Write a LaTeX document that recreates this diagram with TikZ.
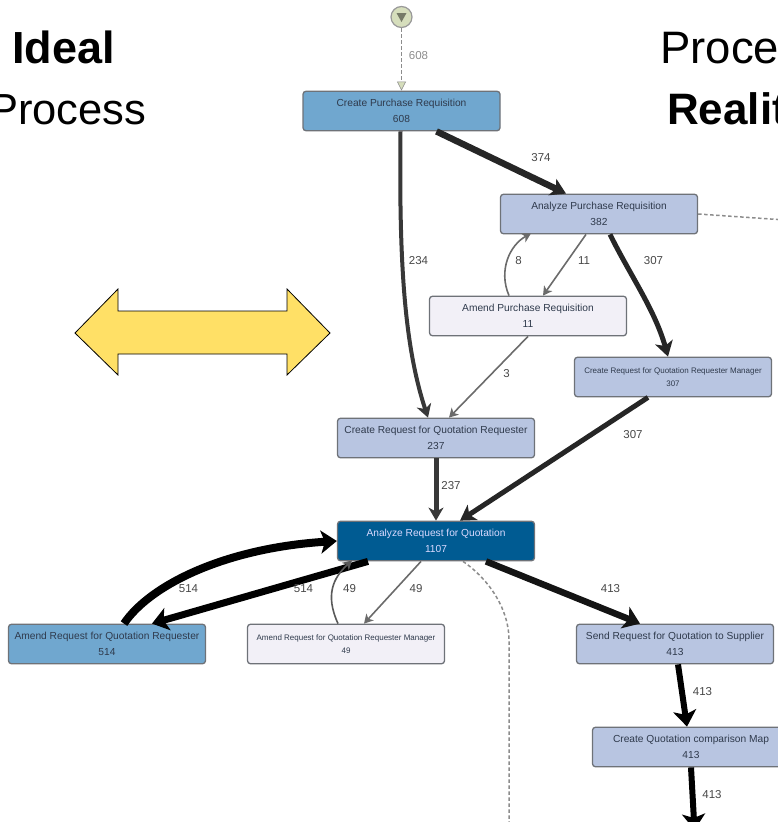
\documentclass[tikz,border=0pt]{standalone}
\usepackage{fontspec}
\setmainfont{Liberation Sans}
\usetikzlibrary{arrows.meta}
\definecolor{midblue}{HTML}{70A7CF}
\definecolor{paleblue}{HTML}{B8C5E1}
\definecolor{palewhite}{HTML}{F2F0F7}
\definecolor{deepblue}{HTML}{005B92}
\definecolor{boxedge}{HTML}{6E7278}
\definecolor{startfill}{HTML}{D6DEBC}
\definecolor{arrowyellow}{HTML}{FFE066}
\definecolor{boxtext}{HTML}{2F3A4C}
\tikzset{
  box/.style={draw=boxedge,line width=1.3pt,rounded corners=3pt,minimum width=197pt,minimum height=39.5pt,
    inner sep=0pt,align=center,text=boxtext,font=\fontsize{10.2}{16.5}\selectfont},
  tiny/.style={font=\fontsize{8}{13}\selectfont},
  edgelabel/.style={font=\fontsize{11.5}{12}\selectfont,text=black!72,inner sep=0pt},
  title/.style={font=\fontsize{43.5}{50}\selectfont,text=black,inner sep=0pt,anchor=base west},
  thin flow/.style={draw=black!58,line width=1.6pt,-{Stealth[length=9pt,width=10pt,inset=2.5pt]}},
  mid flow/.style={draw=black!78,line width=4pt,-{Stealth[length=13pt,width=15pt,inset=4pt]}},
  wide flow/.style={draw=black!85,line width=5pt,-{Stealth[length=15pt,width=18pt,inset=4pt]}},
  huge flow/.style={draw=black,line width=8pt,-{Stealth[length=16pt,width=23pt,inset=4pt]}},
  dash flow/.style={draw=black!45,line width=1.5pt,dash pattern=on 3.5pt off 2.5pt},
}
\begin{document}
\begin{tikzpicture}[x=1pt,y=-1pt]
\useasboundingbox (0,0) rectangle (778,822);
\clip (0,0) rectangle (778,822);
% titles
\node[title,font=\fontsize{45}{50}\selectfont\bfseries] (tideal) at (12,63) {Ideal};
\node[title] (tprocl) at (-11,124) {Process};
\node[title,font=\fontsize{45.5}{50}\selectfont] (tprocr) at (660,63) {Process};
\node[title,font=\fontsize{44}{50}\selectfont\bfseries] (treal) at (667,124) {Reality};
% double arrow
\draw[fill=arrowyellow,draw=black,line width=.8pt] (75,333) -- (118,289) -- (118,311) -- (287,311) -- (287,289)
  -- (330,333) -- (287,375) -- (287,354) -- (118,354) -- (118,375) -- cycle;
% nodes
\node[draw=black!40,fill=startfill,line width=1.2pt,circle,minimum size=21pt,inner sep=0pt] (start) at (401.5,17) {};
\fill[black!45!startfill] (396.5,13) -- (406.5,13) -- (401.5,22) -- cycle;
\node[box,fill=midblue] (cpr) at (401.5,111) {Create Purchase Requisition\\608};
\node[box,fill=paleblue] (apr) at (599,214) {Analyze Purchase Requisition\\382};
\node[box,fill=palewhite] (amp) at (528,316) {Amend Purchase Requisition\\11};
\node[box,tiny,fill=paleblue] (crm) at (673,377) {Create Request for Quotation Requester Manager\\307};
\node[box,fill=paleblue] (crr) at (436,438) {Create Request for Quotation Requester\\237};
\node[box,fill=deepblue,text=white!85!blue] (arq) at (436,541) {Analyze Request for Quotation\\1107};
\node[box,fill=midblue] (amr) at (107,644) {Amend Request for Quotation Requester\\514};
\node[box,tiny,fill=palewhite] (amm) at (346,644) {Amend Request for Quotation Requester Manager\\49};
\node[box,fill=paleblue] (srq) at (675,644) {Send Request for Quotation to Supplier\\413};
\node[box,fill=paleblue] (cqm) at (691,747) {Create Quotation comparison Map\\413};
\coordinate (offend) at (694.5,830);
\coordinate (dashendr) at (785,220);
\coordinate (dashendb) at (509,830);
% connectors
\draw[draw=black!45,line width=1.5pt,dash pattern=on 3.5pt off 2.5pt,-{Stealth[length=9pt,width=9pt,inset=0pt,fill=startfill,color=black!45,line width=.6pt,sep=0pt]}] (start) -- (cpr.north);
\draw[mid flow] ([xshift=-1pt]cpr.south) .. controls (399,260) and (404,345) .. ([xshift=-8pt]crr.north);
\draw[wide flow,line width=6.5pt] ([xshift=35pt]cpr.south) -- ([xshift=-33pt]apr.north);
\draw[wide flow] ([xshift=11pt]apr.south) .. controls (630,275) and (655,310) .. ([xshift=-5pt]crm.north);
\draw[thin flow] ([xshift=-13pt]apr.south) -- ([xshift=15pt]amp.north);
\draw[thin flow] ([xshift=-19pt]amp.north) .. controls (498,270) and (510,245) .. ([xshift=-68pt,yshift=1pt]apr.south);
\draw[thin flow] (amp.south) -- ([xshift=13pt]crr.north);
\draw[wide flow] ([xshift=-25pt]crm.south) -- ([xshift=24pt]arq.north);
\draw[mid flow,line width=5pt] (crr.south) -- (arq.north);
\draw[huge flow] ([xshift=17pt]amr.north) .. controls (150,585) and (225,548) .. (arq.west);
\draw[huge flow,line width=7pt] ([xshift=-68pt]arq.south) -- ([xshift=45pt]amr.north);
\draw[thin flow,draw=black!65] ([xshift=-8pt]amm.north) .. controls (325,595) and (333,578) .. ([xshift=-84pt,yshift=1pt]arq.south);
\draw[thin flow] ([xshift=-15pt]arq.south) -- ([xshift=18pt]amm.north);
\draw[huge flow,draw=black!92,line width=6.5pt] ([xshift=50pt]arq.south) -- ([xshift=-35pt]srq.north);
\draw[huge flow,line width=6pt] ([xshift=3pt]srq.south) -- ([xshift=-4pt]cqm.north);
\draw[huge flow,line width=6pt] (cqm.south) -- (offend);
\draw[dash flow] ([xshift=27pt]arq.south) .. controls (490,580) and (509,610) .. (509,640) -- (dashendb);
\draw[dash flow] (apr.east) -- (dashendr);
% edge labels
\node[edgelabel,text=black!45] (l1) at (418.5,56) {608};
\node[edgelabel] (l2) at (418.5,260.5) {234};
\node[edgelabel] (l3) at (541,157.5) {374};
\node[edgelabel] (l4) at (653.5,260.5) {307};
\node[edgelabel] (l5) at (584,260.5) {11};
\node[edgelabel] (l6) at (518.5,260.5) {8};
\node[edgelabel] (l7) at (506.5,373.5) {3};
\node[edgelabel] (l8) at (633,434.5) {307};
\node[edgelabel] (l9) at (451,485.5) {237};
\node[edgelabel] (l10) at (188.5,589) {514};
\node[edgelabel] (l11) at (303.5,589) {514};
\node[edgelabel] (l12) at (349.5,589) {49};
\node[edgelabel] (l13) at (416,589) {49};
\node[edgelabel] (l14) at (610.5,589) {413};
\node[edgelabel] (l15) at (702.5,692) {413};
\node[edgelabel] (l16) at (712,795) {413};
\end{tikzpicture}
\end{document}
